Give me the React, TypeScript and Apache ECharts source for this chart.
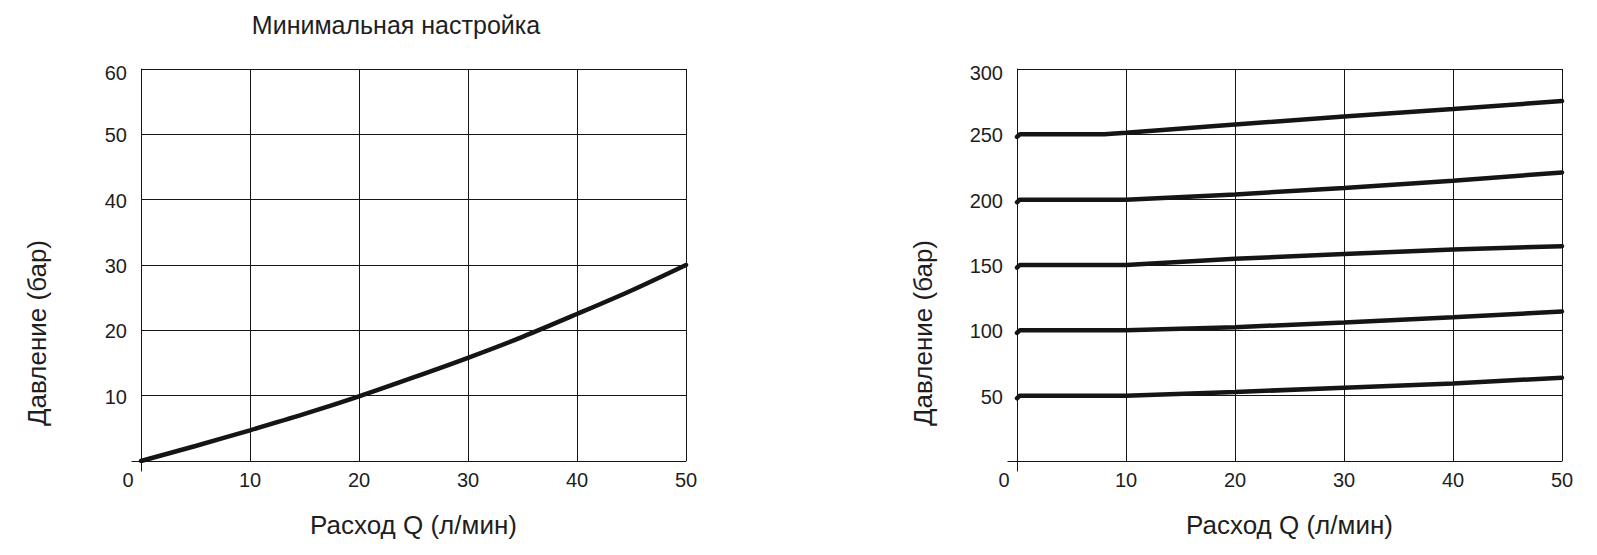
import React, { useEffect, useRef } from "react";
import * as echarts from "echarts";

// ---- Data ----
const titleText = "Минимальная настройка";
const xAxisName = "Расход Q (л/мин)";
const yAxisName = "Давление (бар)";

// Left chart: minimal setting curve
const flowLeft = [0, 5, 10, 15, 20, 25, 30, 35, 40, 45, 50];
const pressureMinSetting = [0, 2.3, 4.7, 7.2, 9.9, 12.8, 15.8, 19.0, 22.5, 26.1, 30];

// Right chart: five setting curves
const flowRight = [0, 0.25, 8, 10, 20, 30, 40, 50];
const pressure50 = [48, 50, 50, 50, 52.8, 56.1, 59.4, 63.7];
const pressure100 = [98, 100, 100, 100, 102.4, 106, 110, 114.4];
const pressure150 = [148, 150, 150, 150, 154.8, 158.4, 161.8, 164.4];
const pressure200 = [198, 200, 200, 200, 204, 209, 214.5, 220.8];
const pressure250 = [248, 250, 250, 251.2, 257.6, 263.6, 269.4, 275.5];

const leftYMax = 60;
const leftYStep = 10;
const rightYMax = 300;
const rightYStep = 50;
const xMax = 50;
const xStep = 10;
const origin = [[0, 0]];

const FONT = "'Liberation Sans', Arial, Helvetica, sans-serif";
const TEXT = "#1e1e1e";
const LINE = "#151515";

function pairs(xs: number[], ys: number[]) {
  return xs.map((x, i) => [x, ys[i]]);
}

export default function App() {
  const ref = useRef<HTMLDivElement>(null);

  useEffect(() => {
    if (!ref.current) return;
    const chart = echarts.init(ref.current, undefined, { renderer: "svg" });

    const xAxisBase = (gridIndex: number) => ({
      type: "value",
      gridIndex,
      min: 0,
      max: xMax,
      interval: xStep,
      name: xAxisName,
      nameLocation: "middle",
      nameGap: 51,
      nameTextStyle: { fontSize: 26, fontFamily: FONT, color: TEXT },
      axisLine: { show: true, onZero: false, lineStyle: { color: LINE, width: 1 } },
      axisTick: { show: false },
      axisLabel: {
        margin: 9,
        fontSize: 20,
        fontFamily: FONT,
        color: TEXT,
        formatter: (v: number) => (v === 0 ? "{z|0}" : String(v)),
        rich: {
          z: { padding: [0, 26, 0, 0], fontSize: 20, fontFamily: FONT, color: TEXT },
        },
      },
      splitLine: { show: true, lineStyle: { color: LINE, width: 1 } },
    });

    const yAxisBase = (gridIndex: number, max: number, step: number, gap: number) => ({
      type: "value",
      gridIndex,
      min: 0,
      max,
      interval: step,
      name: yAxisName,
      nameLocation: "middle",
      nameRotate: 90,
      nameGap: gap,
      nameTextStyle: {
        fontSize: 26,
        fontFamily: FONT,
        color: TEXT,
        padding: [0, 136, 0, 0],
      },
      axisLine: { show: true, onZero: false, lineStyle: { color: LINE, width: 1 } },
      axisTick: { show: false },
      axisLabel: {
        margin: 14,
        fontSize: 20,
        fontFamily: FONT,
        color: TEXT,
        formatter: (v: number) =>
          v === 0 ? "" : v === max ? "{t|" + v + "}" : "{n|" + v + "}",
        rich: {
          t: { padding: [7, 0, 0, 0], fontSize: 20, fontFamily: FONT, color: TEXT },
          n: { padding: [2, 0, 0, 0], fontSize: 20, fontFamily: FONT, color: TEXT },
        },
      },
      splitLine: { show: true, lineStyle: { color: LINE, width: 1 } },
    });

    const lineSeries = (idx: number, data: number[][], smooth: boolean | number) => ({
      type: "line",
      xAxisIndex: idx,
      yAxisIndex: idx,
      data,
      smooth,
      showSymbol: false,
      symbol: "none",
      lineStyle: { color: LINE, width: 4.5, cap: "round" },
      silent: true,
      z: 3,
    });

    // small extensions of both axis lines beyond the origin
    const originMarks = (idx: number) => ({
      type: "custom",
      xAxisIndex: idx,
      yAxisIndex: idx,
      data: origin,
      clip: false,
      silent: true,
      z: 2,
      renderItem: (_params: any, api: any) => {
        const p = api.coord([api.value(0), api.value(1)]);
        const x = Math.round(p[0]) + 0.5;
        const y = Math.round(p[1]) + 0.5;
        const style = { stroke: LINE, lineWidth: 1, fill: null };
        return {
          type: "group",
          children: [
            { type: "line", shape: { x1: x - 10, y1: y, x2: x, y2: y }, style },
            { type: "line", shape: { x1: x, y1: y, x2: x, y2: y + 10 }, style },
          ],
        };
      },
    });

    chart.setOption({
      animation: false,
      backgroundColor: "#ffffff",
      title: {
        text: titleText,
        left: 396,
        top: 12,
        padding: 0,
        textAlign: "center",
        textStyle: { fontSize: 25, fontWeight: "normal", fontFamily: FONT, color: TEXT },
      },
      grid: [
        { left: 141, top: 69, width: 545, height: 392, containLabel: false },
        { left: 1017, top: 69, width: 545, height: 392, containLabel: false },
      ],
      xAxis: [xAxisBase(0), xAxisBase(1)],
      yAxis: [
        yAxisBase(0, leftYMax, leftYStep, 91),
        yAxisBase(1, rightYMax, rightYStep, 81),
      ],
      series: [
        lineSeries(0, pairs(flowLeft, pressureMinSetting), 0.3),
        lineSeries(1, pairs(flowRight, pressure50), false),
        lineSeries(1, pairs(flowRight, pressure100), false),
        lineSeries(1, pairs(flowRight, pressure150), false),
        lineSeries(1, pairs(flowRight, pressure200), false),
        lineSeries(1, pairs(flowRight, pressure250), false),
        originMarks(0),
        originMarks(1),
      ],
    });

    return () => {
      chart.dispose();
    };
  }, []);

  return (
    <div
      ref={ref}
      style={{ position: "absolute", left: 0, top: 0, width: 1597, height: 555, background: "#fff" }}
    />
  );
}
